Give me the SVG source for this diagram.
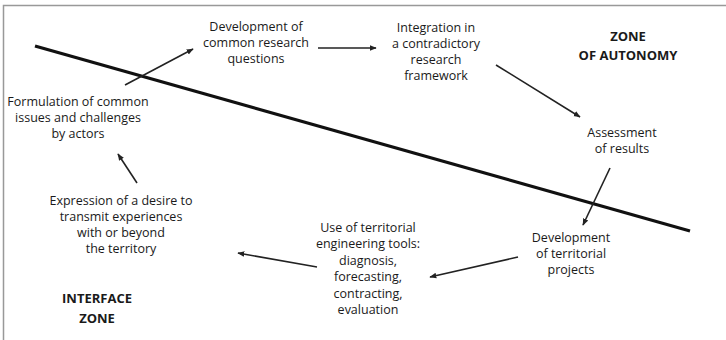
<svg xmlns="http://www.w3.org/2000/svg" width="726" height="340" viewBox="0 0 726 340">
<style>
text{font-family:"Open Sans","Liberation Sans",sans-serif;font-size:12.5px;fill:#1a1a1a;text-anchor:middle}
.b{font-weight:bold;font-size:13px}
.c{stroke:#222;stroke-width:1.6;fill:none;marker-end:url(#ah)}
</style>
<defs>
<marker id="ah" viewBox="0 0 10 10" refX="9" refY="5" markerWidth="7" markerHeight="7" markerUnits="userSpaceOnUse" orient="auto">
<path d="M0,1 L10,5 L0,9 Z" fill="#222"/>
</marker>
</defs>
<rect width="726" height="340" fill="#fff"/>
<path d="M3.5,340 V5.5 H726" fill="none" stroke="#999" stroke-width="1.5"/>
<line x1="35" y1="46" x2="690" y2="231" stroke="#111" stroke-width="3.2"/>
<g id="connectors">
<line class="c" x1="125" y1="85" x2="193" y2="49"/>
<line class="c" x1="318" y1="48" x2="376" y2="48"/>
<line class="c" x1="496" y1="65" x2="580" y2="117"/>
<line class="c" x1="610" y1="168" x2="583" y2="225"/>
<line class="c" x1="518" y1="257" x2="430" y2="277"/>
<line class="c" x1="317" y1="267" x2="238" y2="253"/>
<line class="c" x1="137" y1="183" x2="118" y2="154"/>
</g>
<g id="n1"><text x="256" y="31">Development of</text><text x="256" y="47">common research</text><text x="256" y="63">questions</text></g>
<g id="n2"><text x="436" y="32">Integration in</text><text x="436" y="48">a contradictory</text><text x="436" y="64">research</text><text x="436" y="80">framework</text></g>
<g id="z1"><text class="b" x="628" y="41">ZONE</text><text class="b" x="628" y="60">OF AUTONOMY</text></g>
<g id="n3"><text x="622" y="137">Assessment</text><text x="622" y="153">of results</text></g>
<g id="n4"><text x="571" y="242">Development</text><text x="571" y="258">of territorial</text><text x="571" y="274">projects</text></g>
<g id="n5"><text x="368" y="232">Use of territorial</text><text x="368" y="248">engineering tools:</text><text x="368" y="265">diagnosis,</text><text x="368" y="281">forecasting,</text><text x="368" y="298">contracting,</text><text x="368" y="314">evaluation</text></g>
<g id="n6"><text x="121" y="205">Expression of a desire to</text><text x="121" y="221">transmit experiences</text><text x="121" y="237">with or beyond</text><text x="121" y="253">the territory</text></g>
<g id="z2"><text class="b" x="97" y="303">INTERFACE</text><text class="b" x="97" y="323">ZONE</text></g>
<g id="n7"><text x="78" y="106">Formulation of common</text><text x="78" y="122">issues and challenges</text><text x="78" y="138">by actors</text></g>
</svg>
